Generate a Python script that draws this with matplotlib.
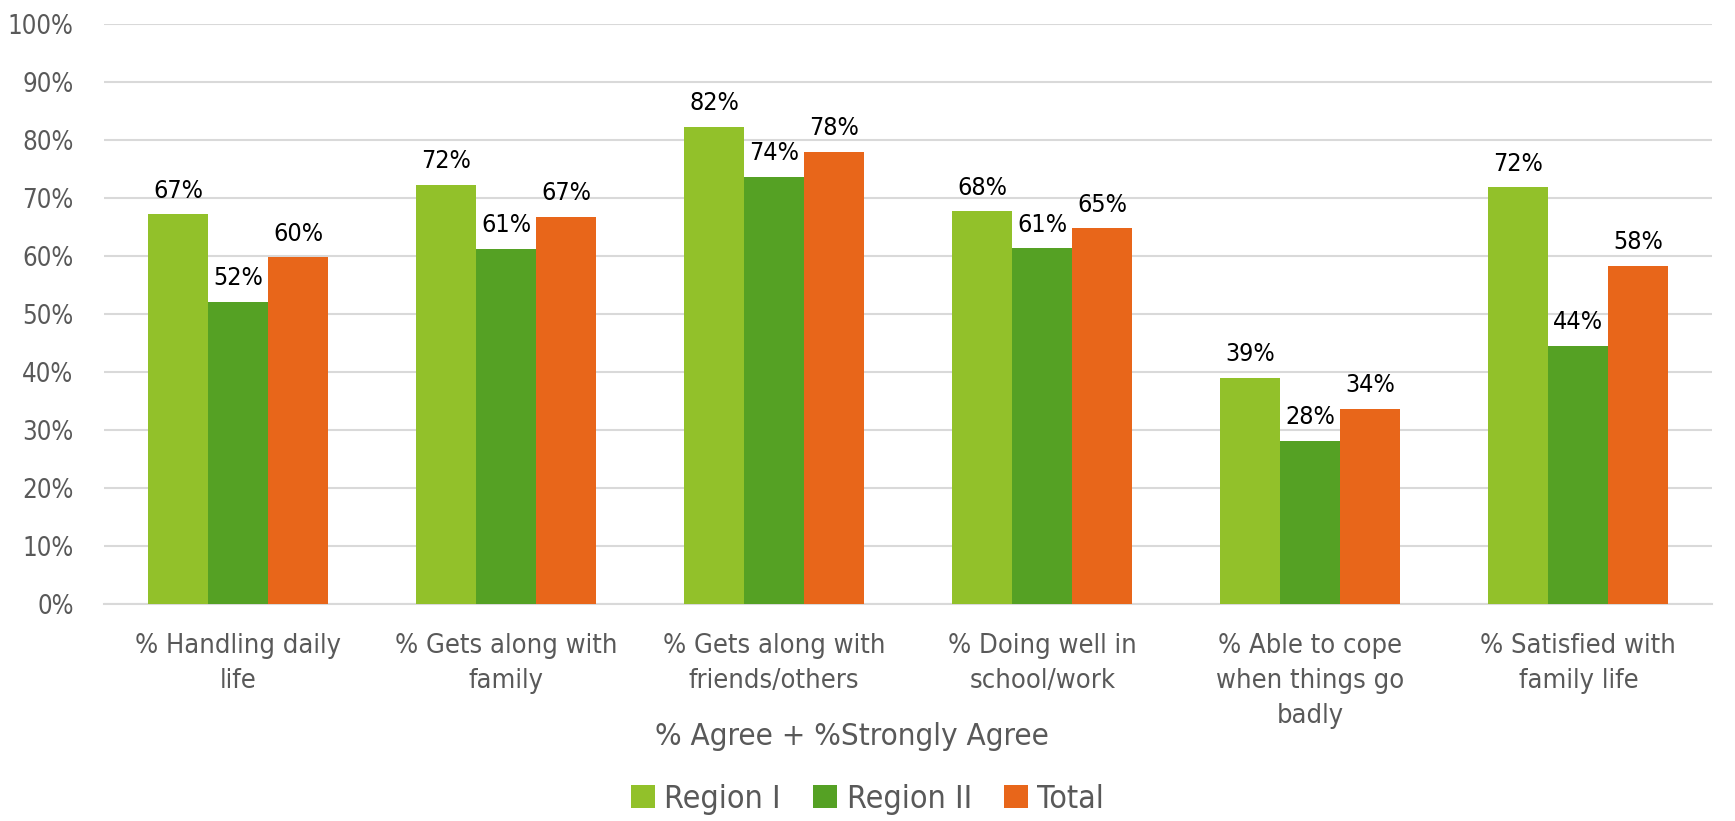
import matplotlib
matplotlib.use('Agg')
import matplotlib.pyplot as plt
import numpy as np

plt.rcParams['font.family'] = ['DejaVu Sans']
plt.rcParams['font.stretch'] = 'condensed'

# Data
categories = ['% Handling daily\nlife', '% Gets along with\nfamily', '% Gets along with\nfriends/others',
              '% Doing well in\nschool/work', '% Able to cope\nwhen things go\nbadly', '% Satisfied with\nfamily life']
region1 = [67.2, 72.3, 82.3, 67.7, 39.0, 71.8]
region2 = [52.1, 61.2, 73.6, 61.3, 28.2, 44.5]
total = [59.8, 66.7, 78.0, 64.8, 33.7, 58.3]
series_names = ['Region I', 'Region II', 'Total']
colors = ['#92C12A', '#55A124', '#E8661A']

fig = plt.figure(figsize=(17.35, 8.21), dpi=100)
ax = fig.add_axes([0.060, 0.264, 0.927, 0.707])

x = np.arange(len(categories))
w = 0.224
for i, (vals, name, c) in enumerate(zip([region1, region2, total], series_names, colors)):
    bars = ax.bar(x + (i - 1) * w, vals, width=w, color=c, label=name, zorder=3)
    for b, v in zip(bars, vals):
        ax.text(b.get_x() + b.get_width() / 2, v + 2.0, f'{v:.0f}%', ha='center', va='bottom',
                fontsize=18, color='black')

ax.set_xlim(-0.5, len(categories) - 0.5)
ax.set_ylim(0, 100)
ax.set_yticks(range(0, 101, 10))
ax.set_yticklabels([f'{t}%' for t in range(0, 101, 10)], fontsize=18.5, color='#595959')
ax.set_xticks(x)
ax.set_xticklabels(categories, fontsize=19.5, color='#595959', linespacing=1.45)
ax.tick_params(length=0, pad=21)
ax.tick_params(axis='y', pad=22)
ax.grid(axis='y', color='#D9D9D9', linewidth=1.5, zorder=0)
for s in ['top', 'right', 'left']:
    ax.spines[s].set_visible(False)
ax.spines['bottom'].set_color('#D9D9D9')
ax.spines['bottom'].set_linewidth(1.5)

fig.text(0.491, 1 - 736 / 821, '% Agree + %Strongly Agree', ha='center', va='center',
         fontsize=22.5, color='#595959')
fig.legend(loc='center', bbox_to_anchor=(0.5, 1 - 799 / 821), ncol=3, frameon=False,
           fontsize=23, handlelength=0.75, handleheight=0.75, handletextpad=0.3,
           columnspacing=1.0, labelcolor='#595959')

fig.savefig('out.png', dpi=100)
